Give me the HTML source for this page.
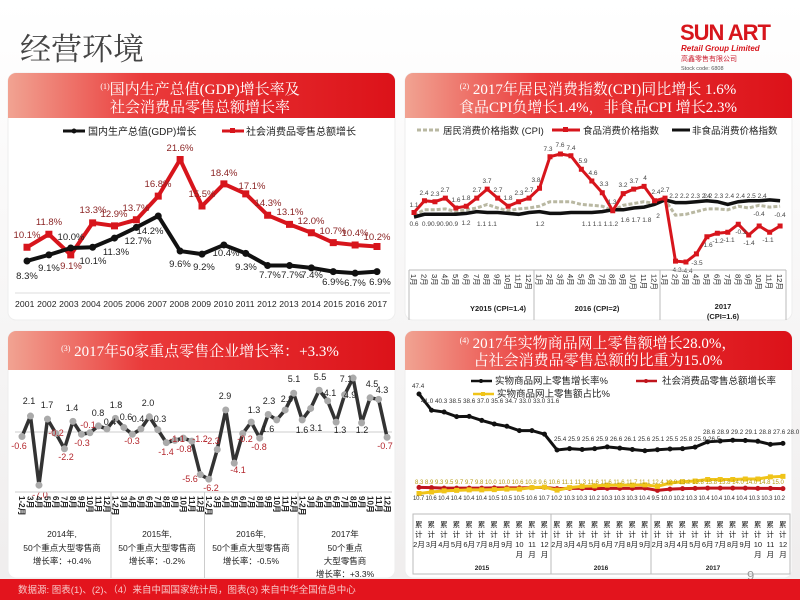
<!DOCTYPE html>
<html><head><meta charset="utf-8"><style>
html,body{margin:0;padding:0;width:800px;height:600px;overflow:hidden;background:#f5f3f3}
svg{display:block}
text{font-family:"Liberation Sans","Noto Sans CJK SC",sans-serif}
text.ser,.ser text{font-family:"Liberation Serif","Noto Serif CJK SC",serif}
</style></head><body>
<svg width="800" height="600" viewBox="0 0 800 600" xmlns="http://www.w3.org/2000/svg">
<defs>
<linearGradient id="hd" x1="0" x2="1" y1="0" y2="0">
<stop offset="0" stop-color="#f1a392"/><stop offset="0.35" stop-color="#ea3a3a"/><stop offset="1" stop-color="#dc1219"/></linearGradient>
<linearGradient id="bg" x1="0" x2="0" y1="0" y2="1"><stop offset="0" stop-color="#ffffff"/><stop offset="1" stop-color="#efeded"/></linearGradient>
</defs>
<rect width="800" height="600" fill="url(#bg)"/>
<text x="20" y="60" class="ser" font-size="31" fill="#444">经营环境</text>
<text x="680" y="40" font-size="22" font-weight="bold" fill="#d7151c" letter-spacing="-1">SUN ART</text>
<text x="681" y="51" font-size="8" font-weight="bold" font-style="italic" fill="#d7151c">Retail Group Limited</text>
<text x="681" y="61" font-size="7" fill="#c23">高鑫零售有限公司</text>
<text x="681" y="70" font-size="5.5" fill="#555">Stock code: 6808</text>

<!-- panels -->
<rect x="8" y="73" width="387" height="247" rx="8" fill="#fff" stroke="#eee"/>
<path d="M8 118V81a8 8 0 0 1 8-8h371a8 8 0 0 1 8 8v37z" fill="url(#hd)"/>
<rect x="405" y="73" width="387" height="247" rx="8" fill="#fff" stroke="#eee"/>
<path d="M405 118V81a8 8 0 0 1 8-8h371a8 8 0 0 1 8 8v37z" fill="url(#hd)"/>
<rect x="8" y="331" width="387" height="247" rx="8" fill="#fff" stroke="#eee"/>
<path d="M8 370V339a8 8 0 0 1 8-8h371a8 8 0 0 1 8 8v31z" fill="url(#hd)"/>
<rect x="405" y="331" width="387" height="247" rx="8" fill="#fff" stroke="#eee"/>
<path d="M405 370V339a8 8 0 0 1 8-8h371a8 8 0 0 1 8 8v31z" fill="url(#hd)"/>

<g class="ser" fill="#fff" text-anchor="middle" font-size="15">
<text x="200" y="94"><tspan font-size="8" dy="-5">(1)</tspan><tspan dy="5">国内生产总值(GDP)增长率及</tspan></text>
<text x="200" y="112">社会消费品零售总额增长率</text>
<text x="598" y="94"><tspan font-size="8" dy="-5">(2)</tspan><tspan dy="5"> 2017年居民消费指数(CPI)同比增长 1.6%</tspan></text>
<text x="598" y="112">食品CPI负增长1.4%，非食品CPI 增长2.3%</text>
<text x="200" y="356"><tspan font-size="8" dy="-5">(3)</tspan><tspan dy="5"> 2017年50家重点零售企业增长率：+3.3%</tspan></text>
<text x="598" y="348"><tspan font-size="8" dy="-5">(4)</tspan><tspan dy="5"> 2017年实物商品网上零售额增长28.0%，</tspan></text>
<text x="598" y="365">占社会消费品零售总额的比重为15.0%</text>
</g>

<!-- Chart 1 -->
<g font-size="10" fill="#222">
<line x1="63" y1="131" x2="85" y2="131" stroke="#111" stroke-width="3"/><circle cx="74" cy="131" r="2.5" fill="#111"/>
<text x="88" y="135">国内生产总值(GDP)增长</text>
<line x1="222" y1="131" x2="244" y2="131" stroke="#d7151c" stroke-width="3"/><rect x="230" y="128" width="5" height="5" fill="#d7151c"/>
<text x="246" y="135">社会消费品零售总额增长</text>
</g>
<line x1="15" y1="293" x2="390" y2="293" stroke="#ddd"/>
<text x="201" y="307" font-size="8.6" fill="#222" text-anchor="middle" textLength="372" lengthAdjust="spacing">2001 2002 2003 2004 2005 2006 2007 2008 2009 2010 2011 2012 2013 2014 2015 2016 2017</text>
<g transform="translate(27,324.3) scale(21.875,-7.63)" fill="none">
<polyline vector-effect="non-scaling-stroke" stroke="#d7151c" stroke-width="4" stroke-linejoin="round" points="0,10.1 1,11.8 2,9.1 3,13.3 4,12.9 5,13.7 6,16.8 7,21.6 8,15.5 9,18.4 10,17.1 11,14.3 12,13.1 13,12 14,10.7 15,10.4 16,10.2"/>
<path vector-effect="non-scaling-stroke" stroke="#d7151c" stroke-width="7" stroke-linecap="square" d="M0 10.1h0M1 11.8h0M2 9.1h0M3 13.3h0M4 12.9h0M5 13.7h0M6 16.8h0M7 21.6h0M8 15.5h0M9 18.4h0M10 17.1h0M11 14.3h0M12 13.1h0M13 12h0M14 10.7h0M15 10.4h0M16 10.2h0"/>
<polyline vector-effect="non-scaling-stroke" stroke="#111" stroke-width="4" stroke-linejoin="round" points="0,8.3 1,9.1 2,10 3,10.1 4,11.3 5,12.7 6,14.2 7,9.6 8,9.2 9,10.4 10,9.3 11,7.7 12,7.7 13,7.4 14,6.9 15,6.7 16,6.9"/>
<path vector-effect="non-scaling-stroke" stroke="#111" stroke-width="7" stroke-linecap="round" d="M0 8.3h0M1 9.1h0M2 10h0M3 10.1h0M4 11.3h0M5 12.7h0M6 14.2h0M7 9.6h0M8 9.2h0M9 10.4h0M10 9.3h0M11 7.7h0M12 7.7h0M13 7.4h0M14 6.9h0M15 6.7h0M16 6.9h0"/>
</g>
<g font-size="9.5" fill="#8b2424" text-anchor="middle">
<text x="27" y="238">10.1%</text><text x="49" y="225">11.8%</text><text x="71" y="269">9.1%</text><text x="93" y="213">13.3%</text><text x="114" y="217">12.9%</text><text x="136" y="211">13.7%</text><text x="158" y="187">16.8%</text><text x="180" y="151">21.6%</text><text x="202" y="197">15.5%</text><text x="224" y="176">18.4%</text><text x="252" y="189">17.1%</text><text x="268" y="206">14.3%</text><text x="290" y="215">13.1%</text><text x="311" y="224">12.0%</text><text x="333" y="234">10.7%</text><text x="355" y="236">10.4%</text><text x="377" y="240">10.2%</text>
</g>
<g font-size="9.5" fill="#222" text-anchor="middle">
<text x="27" y="279">8.3%</text><text x="49" y="271">9.1%</text><text x="71" y="240">10.0%</text><text x="93" y="264">10.1%</text><text x="116" y="255">11.3%</text><text x="138" y="244">12.7%</text><text x="150" y="234">14.2%</text><text x="180" y="267">9.6%</text><text x="204" y="270">9.2%</text><text x="226" y="256">10.4%</text><text x="246" y="270">9.3%</text><text x="270" y="278">7.7%</text><text x="292" y="278">7.7%</text><text x="312" y="278">7.4%</text><text x="333" y="285">6.9%</text><text x="355" y="286">6.7%</text><text x="380" y="285">6.9%</text>
</g>

<!-- Chart 2 -->
<g font-size="9.5" fill="#222">
<line x1="417" y1="130" x2="440" y2="130" stroke="#b9b8a2" stroke-width="3" stroke-dasharray="4 2"/>
<text x="443" y="134">居民消费价格指数 (CPI)</text>
<line x1="552" y1="130" x2="580" y2="130" stroke="#d7151c" stroke-width="3"/><rect x="563" y="127" width="5" height="5" fill="#d7151c"/>
<text x="583" y="134">食品消费价格指数</text>
<line x1="672" y1="130" x2="690" y2="130" stroke="#111" stroke-width="3"/>
<text x="692" y="134">非食品消费价格指数</text>
</g>
<g transform="translate(414,222.4) scale(10.46,-9)" fill="none">
<polyline vector-effect="non-scaling-stroke" stroke="#b9b8a2" stroke-width="3" stroke-dasharray="4 2" points="0,0.8 1,1.4 2,1.4 3,1.5 4,1.2 5,1.4 6,1.6 7,2 8,1.6 9,1.3 10,1.5 11,1.6 12,1.8 13,2.3 14,2.3 15,2.3 16,2 17,1.9 18,1.8 19,1.3 20,1.9 21,2.1 22,2.3 23,2.1 24,2.5 25,0.8 26,0.9 27,1.2 28,1.5 29,1.5 30,1.4 31,1.8 32,1.6 33,1.9 34,1.7 35,1.8"/>
<polyline vector-effect="non-scaling-stroke" stroke="#111" stroke-width="3.5" points="0,0.6 1,0.9 2,0.9 3,0.9 4,0.9 5,1 6,1.2 7,1.1 8,1.1 9,1 10,0.9 11,1.1 12,1.2 13,1 14,1 15,1.1 16,1.1 17,1.1 18,1.2 19,1.4 20,1.4 21,1.6 22,1.7 23,2 24,2.5 25,2.2 26,2.2 27,2.3 28,2.4 29,2.3 30,2 31,2.3 32,2.4 33,2.4 34,2.5 35,2.4"/>
<polyline vector-effect="non-scaling-stroke" stroke="#d7151c" stroke-width="3" stroke-linejoin="round" points="0,1.1 1,2.4 2,2.3 3,2.7 4,1.6 5,1.8 6,2.7 7,3.7 8,2.7 9,1.8 10,2.3 11,2.7 12,3.8 13,7.3 14,7.6 15,7.4 16,5.9 17,4.6 18,3.3 19,1.3 20,3.2 21,3.7 22,4 23,2.4 24,2.7 25,-4.3 26,-4.4 27,-3.5 28,-1.6 29,-1.2 30,-1.1 31,-0.2 32,-1.4 33,-0.4 34,-1.1 35,-0.4"/>
<path vector-effect="non-scaling-stroke" stroke="#d7151c" stroke-width="5" stroke-linecap="square" d="M0 1.1h0M1 2.4h0M2 2.3h0M3 2.7h0M4 1.6h0M5 1.8h0M6 2.7h0M7 3.7h0M8 2.7h0M9 1.8h0M10 2.3h0M11 2.7h0M12 3.8h0M13 7.3h0M14 7.6h0M15 7.4h0M16 5.9h0M17 4.6h0M18 3.3h0M19 1.3h0M20 3.2h0M21 3.7h0M22 4h0M23 2.4h0M24 2.7h0M25 -4.3h0M26 -4.4h0M27 -3.5h0M28 -1.6h0M29 -1.2h0M30 -1.1h0M31 -0.2h0M32 -1.4h0M33 -0.4h0M34 -1.1h0M35 -0.4h0"/>
</g>
<g font-size="6.5" fill="#444" text-anchor="middle">
<text x="414" y="207">1.1</text><text x="424" y="195">2.4</text><text x="435" y="196">2.3</text><text x="445" y="192">2.7</text><text x="456" y="202">1.6</text><text x="466" y="200">1.8</text><text x="477" y="192">2.7</text><text x="487" y="183">3.7</text><text x="498" y="192">2.7</text><text x="508" y="200">1.8</text><text x="519" y="195">2.3</text><text x="529" y="192">2.7</text><text x="536" y="182">3.8</text><text x="548" y="151">7.3</text><text x="560" y="147">7.6</text><text x="571" y="150">7.4</text><text x="583" y="163">5.9</text><text x="593" y="175">4.6</text><text x="604" y="186">3.3</text><text x="612" y="204">1.3</text><text x="623" y="187">3.2</text><text x="634" y="183">3.7</text><text x="645" y="180">4</text><text x="656" y="194">2.4</text><text x="665" y="192">2.7</text>
<text x="676" y="272">-4.3</text><text x="687" y="273">-4.4</text><text x="697" y="265">-3.5</text><text x="707" y="247">-1.6</text><text x="718" y="243">-1.2</text><text x="729" y="242">-1.1</text><text x="741" y="234">-0.2</text><text x="749" y="245">-1.4</text><text x="759" y="216">-0.4</text><text x="768" y="242">-1.1</text><text x="780" y="217">-0.4</text>
<text x="414" y="226">0.6</text><text x="440" y="226">0.90.90.90.9</text><text x="466" y="225">1.2</text><text x="487" y="226">1.1 1.1</text><text x="540" y="226">1.2</text><text x="600" y="226">1.1 1.1 1.1.2</text><text x="636" y="222">1.6 1.7 1.8</text><text x="658" y="218">2</text>
<text x="690" y="198">2.2 2.2 2.3 2.4</text><text x="735" y="198">2.2 2.3 2.4 2.4 2.5 2.4</text>
</g>
<line x1="409" y1="270" x2="786" y2="270" stroke="#bbb"/>
<g stroke="#bbb"><line x1="409" y1="270" x2="409" y2="320"/><line x1="534" y1="270" x2="534" y2="320"/><line x1="660" y1="270" x2="660" y2="320"/><line x1="786" y1="270" x2="786" y2="320"/></g>
<g font-size="7.5" fill="#222">
<text transform="translate(411,274) rotate(90)">1月</text><text transform="translate(421.5,274) rotate(90)">2月</text><text transform="translate(432,274) rotate(90)">3月</text><text transform="translate(442.4,274) rotate(90)">4月</text><text transform="translate(452.8,274) rotate(90)">5月</text><text transform="translate(463.3,274) rotate(90)">6月</text><text transform="translate(473.8,274) rotate(90)">7月</text><text transform="translate(484.2,274) rotate(90)">8月</text><text transform="translate(494.7,274) rotate(90)">9月</text><text transform="translate(505.1,274) rotate(90)">10月</text><text transform="translate(515.6,274) rotate(90)">11月</text><text transform="translate(526.1,274) rotate(90)">12月</text>
<text transform="translate(536.5,274) rotate(90)">1月</text><text transform="translate(547,274) rotate(90)">2月</text><text transform="translate(557.4,274) rotate(90)">3月</text><text transform="translate(567.9,274) rotate(90)">4月</text><text transform="translate(578.4,274) rotate(90)">5月</text><text transform="translate(588.8,274) rotate(90)">6月</text><text transform="translate(599.3,274) rotate(90)">7月</text><text transform="translate(609.7,274) rotate(90)">8月</text><text transform="translate(620.2,274) rotate(90)">9月</text><text transform="translate(630.7,274) rotate(90)">10月</text><text transform="translate(641.1,274) rotate(90)">11月</text><text transform="translate(651.6,274) rotate(90)">12月</text>
<text transform="translate(662,274) rotate(90)">1月</text><text transform="translate(672.5,274) rotate(90)">2月</text><text transform="translate(683,274) rotate(90)">3月</text><text transform="translate(693.4,274) rotate(90)">4月</text><text transform="translate(703.9,274) rotate(90)">5月</text><text transform="translate(714.3,274) rotate(90)">6月</text><text transform="translate(724.8,274) rotate(90)">7月</text><text transform="translate(735.3,274) rotate(90)">8月</text><text transform="translate(745.7,274) rotate(90)">9月</text><text transform="translate(756.2,274) rotate(90)">10月</text><text transform="translate(766.6,274) rotate(90)">11月</text><text transform="translate(777.1,274) rotate(90)">12月</text>
</g>
<g font-size="7.5" font-weight="bold" fill="#222" text-anchor="middle">
<text x="498" y="311">Y2015 (CPI=1.4)</text><text x="597" y="311">2016 (CPI=2)</text><text x="723" y="309">2017</text><text x="723" y="319">(CPI=1.6)</text>
</g>

<!-- Chart 3 -->
<line x1="15" y1="432" x2="392" y2="432" stroke="#ccc"/>
<g transform="translate(22,432) scale(8.49,-7.6)" fill="none">
<polyline vector-effect="non-scaling-stroke" stroke="#333" stroke-width="3.5" stroke-linejoin="round" points="0,-0.6 1,2.1 2,-7 3,1.7 4,-0.2 5,-2.2 6,1.4 7,-0.3 8,-0.1 9,0.8 10,0.4 11,1.8 12,0.6 13,-0.3 14,0.4 15,2 16,0.3 17,-1.4 18,-1.1 19,-0.8 20,-1.2 21,-5.6 22,-6.2 23,-2.3 24,2.9 25,-4.1 26,-0.2 27,1.3 28,-0.8 29,2.3 30,1.6 31,2.9 32,5.1 33,1.6 34,3.1 35,5.5 36,4.1 37,1.3 38,4.9 39,7.1 40,1.2 41,4.5 42,4.3 43,-0.7"/>
<path vector-effect="non-scaling-stroke" stroke="#aaa" stroke-width="7" stroke-linecap="round" d="M0 -0.6h0M1 2.1h0M2 -7h0M3 1.7h0M4 -0.2h0M5 -2.2h0M6 1.4h0M7 -0.3h0M8 -0.1h0M9 0.8h0M10 0.4h0M11 1.8h0M12 0.6h0M13 -0.3h0M14 0.4h0M15 2h0M16 0.3h0M17 -1.4h0M18 -1.1h0M19 -0.8h0M20 -1.2h0M21 -5.6h0M22 -6.2h0M23 -2.3h0M24 2.9h0M25 -4.1h0M26 -0.2h0M27 1.3h0M28 -0.8h0M29 2.3h0M30 1.6h0M31 2.9h0M32 5.1h0M33 1.6h0M34 3.1h0M35 5.5h0M36 4.1h0M37 1.3h0M38 4.9h0M39 7.1h0M40 1.2h0M41 4.5h0M42 4.3h0M43 -0.7h0"/>
</g>
<g font-size="9" fill="#222" text-anchor="middle">
<text x="29" y="404">2.1</text><text x="47" y="408">1.7</text><text x="72" y="411">1.4</text><text x="98" y="416">0.8</text><text x="110" y="425">0.4</text><text x="116" y="408">1.8</text><text x="126" y="420">0.6</text><text x="138" y="422">0.4</text><text x="148" y="406">2.0</text><text x="160" y="422">0.3</text><text x="225" y="399">2.9</text><text x="254" y="413">1.3</text><text x="269" y="404">2.3</text><text x="287" y="402">2.9</text><text x="268" y="432">1.6</text><text x="294" y="382">5.1</text><text x="302" y="433">1.6</text><text x="316" y="431">3.1</text><text x="320" y="380">5.5</text><text x="330" y="396">4.1</text><text x="340" y="433">1.3</text><text x="350" y="398">4.9</text><text x="346" y="382">7.1</text><text x="362" y="433">1.2</text><text x="372" y="387">4.5</text><text x="382" y="393">4.3</text>
</g>
<g font-size="9" fill="#b3262c" text-anchor="middle">
<text x="19" y="449">-0.6</text><text x="40" y="498">-7.0</text><text x="56" y="436">-0.2</text><text x="66" y="460">-2.2</text><text x="82" y="446">-0.3</text><text x="88" y="428">-0.1</text><text x="132" y="444">-0.3</text><text x="166" y="455">-1.4</text><text x="177" y="442">-1.1</text><text x="184" y="452">-0.8</text><text x="200" y="442">-1.2</text><text x="190" y="482">-5.6</text><text x="211" y="491">-6.2</text><text x="212" y="444">-2.3</text><text x="238" y="473">-4.1</text><text x="245" y="442">-0.2</text><text x="259" y="450">-0.8</text><text x="385" y="449">-0.7</text>
</g>
<line x1="15" y1="492" x2="392" y2="492" stroke="#ccc"/>
<g stroke="#ccc"><line x1="111" y1="492" x2="111" y2="578"/><line x1="204.5" y1="492" x2="204.5" y2="578"/><line x1="298" y1="492" x2="298" y2="578"/></g>
<g font-size="8" font-weight="bold" fill="#222">
<text transform="translate(19,496) rotate(90)">1-2月</text><text transform="translate(27.5,496) rotate(90)">3月</text><text transform="translate(36,496) rotate(90)">4月</text><text transform="translate(44.5,496) rotate(90)">5月</text><text transform="translate(53,496) rotate(90)">6月</text><text transform="translate(61.5,496) rotate(90)">7月</text><text transform="translate(70,496) rotate(90)">8月</text><text transform="translate(78.5,496) rotate(90)">9月</text><text transform="translate(87,496) rotate(90)">10月</text><text transform="translate(95.5,496) rotate(90)">11月</text><text transform="translate(104,496) rotate(90)">12月</text>
<text transform="translate(112.5,496) rotate(90)">1-2月</text><text transform="translate(121,496) rotate(90)">3月</text><text transform="translate(129.5,496) rotate(90)">4月</text><text transform="translate(138,496) rotate(90)">5月</text><text transform="translate(146.5,496) rotate(90)">6月</text><text transform="translate(155,496) rotate(90)">7月</text><text transform="translate(163.5,496) rotate(90)">8月</text><text transform="translate(172,496) rotate(90)">9月</text><text transform="translate(180.5,496) rotate(90)">10月</text><text transform="translate(189,496) rotate(90)">11月</text><text transform="translate(197.5,496) rotate(90)">12月</text>
<text transform="translate(206,496) rotate(90)">1-2月</text><text transform="translate(214.5,496) rotate(90)">3月</text><text transform="translate(223,496) rotate(90)">4月</text><text transform="translate(231.5,496) rotate(90)">5月</text><text transform="translate(240,496) rotate(90)">6月</text><text transform="translate(248.5,496) rotate(90)">7月</text><text transform="translate(257,496) rotate(90)">8月</text><text transform="translate(265.5,496) rotate(90)">9月</text><text transform="translate(274,496) rotate(90)">10月</text><text transform="translate(282.5,496) rotate(90)">11月</text><text transform="translate(291,496) rotate(90)">12月</text>
<text transform="translate(299.5,496) rotate(90)">1-2月</text><text transform="translate(308,496) rotate(90)">3月</text><text transform="translate(316.5,496) rotate(90)">4月</text><text transform="translate(325,496) rotate(90)">5月</text><text transform="translate(333.5,496) rotate(90)">6月</text><text transform="translate(342,496) rotate(90)">7月</text><text transform="translate(350.5,496) rotate(90)">8月</text><text transform="translate(359,496) rotate(90)">9月</text><text transform="translate(367.5,496) rotate(90)">10月</text><text transform="translate(376,496) rotate(90)">11月</text><text transform="translate(384.5,496) rotate(90)">12月</text>
</g>
<g font-size="8.5" fill="#222" text-anchor="middle">
<text x="62" y="537">2014年,</text><text x="62" y="551">50个重点大型零售商</text><text x="62" y="564">增长率：+0.4%</text>
<text x="157" y="537">2015年,</text><text x="157" y="551">50个重点大型零售商</text><text x="157" y="564">增长率：-0.2%</text>
<text x="251" y="537">2016年,</text><text x="251" y="551">50个重点大型零售商</text><text x="251" y="564">增长率：-0.5%</text>
<text x="345" y="537">2017年</text><text x="345" y="551">50个重点</text><text x="345" y="564">大型零售商</text><text x="345" y="577">增长率：+3.3%</text>
</g>

<!-- Chart 4 -->
<g font-size="9.5" fill="#222">
<line x1="471" y1="381" x2="492" y2="381" stroke="#111" stroke-width="2.5"/><circle cx="481" cy="381" r="2" fill="#111"/>
<text x="495" y="384">实物商品网上零售增长率%</text>
<line x1="636" y1="381" x2="657" y2="381" stroke="#c0141c" stroke-width="2.5"/><circle cx="646" cy="381" r="2" fill="#c0141c"/>
<text x="662" y="384">社会消费品零售总额增长率</text>
<line x1="473" y1="394" x2="494" y2="394" stroke="#f0c419" stroke-width="2.5"/><rect x="481" y="392" width="4" height="4" fill="#f0c419"/>
<text x="497" y="397">实物商品网上零售额占比%</text>
</g>
<g transform="translate(419,514.6) scale(12.55,-2.545)" fill="none">
<polyline vector-effect="non-scaling-stroke" stroke="#c0141c" stroke-width="3" points="0,10.7 1,10.6 2,10.4 3,10.4 4,10.4 5,10.4 6,10.5 7,10.5 8,10.5 9,10.6 10,10.7 11,10.2 12,10.3 13,10.3 14,10.2 15,10.3 16,10.3 17,10.3 18,10.4 19,9.5 20,10 21,10.2 22,10.3 23,10.4 24,10.4 25,10.4 26,10.4 27,10.3 28,10.3 29,10.2"/>
<path vector-effect="non-scaling-stroke" stroke="#c0141c" stroke-width="5" stroke-linecap="round" d="M0 10.7h0M1 10.6h0M2 10.4h0M3 10.4h0M4 10.4h0M5 10.4h0M6 10.5h0M7 10.5h0M8 10.5h0M9 10.6h0M10 10.7h0M11 10.2h0M12 10.3h0M13 10.3h0M14 10.2h0M15 10.3h0M16 10.3h0M17 10.3h0M18 10.4h0M19 9.5h0M20 10h0M21 10.2h0M22 10.3h0M23 10.4h0M24 10.4h0M25 10.4h0M26 10.4h0M27 10.3h0M28 10.3h0M29 10.2h0"/>
<polyline vector-effect="non-scaling-stroke" stroke="#f0c419" stroke-width="3" points="0,8.3 1,8.9 2,9.3 3,9.5 4,9.7 5,9.7 6,9.8 7,10 8,10 9,10.6 10,10.8 11,9.6 12,10.6 13,11.1 14,11.3 15,11.6 16,11.6 17,11.6 18,11.7 19,11.1 20,12.4 21,12.9 22,13.2 23,13.8 24,13.8 25,13.8 26,14 27,14 28,14.8 29,15"/>
<path vector-effect="non-scaling-stroke" stroke="#f0c419" stroke-width="5" stroke-linecap="square" d="M0 8.3h0M1 8.9h0M2 9.3h0M3 9.5h0M4 9.7h0M5 9.7h0M6 9.8h0M7 10h0M8 10h0M9 10.6h0M10 10.8h0M11 9.6h0M12 10.6h0M13 11.1h0M14 11.3h0M15 11.6h0M16 11.6h0M17 11.6h0M18 11.7h0M19 11.1h0M20 12.4h0M21 12.9h0M22 13.2h0M23 13.8h0M24 13.8h0M25 13.8h0M26 14h0M27 14h0M28 14.8h0M29 15h0"/>
<polyline vector-effect="non-scaling-stroke" stroke="#111" stroke-width="3" points="0,47.4 1,41 2,40.3 3,38.5 4,38.6 5,37 6,35.6 7,34.7 8,33 9,33 10,31.6 11,25.4 12,25.9 13,25.6 14,25.9 15,26.6 16,26.1 17,25.6 18,25.1 19,25.5 20,25.8 21,25.9 22,26.5 23,28.6 24,28.9 25,29.2 26,29.1 27,28.8 28,27.6 29,28"/>
<path vector-effect="non-scaling-stroke" stroke="#111" stroke-width="5" stroke-linecap="round" d="M0 47.4h0M1 41h0M2 40.3h0M3 38.5h0M4 38.6h0M5 37h0M6 35.6h0M7 34.7h0M8 33h0M9 33h0M10 31.6h0M11 25.4h0M12 25.9h0M13 25.6h0M14 25.9h0M15 26.6h0M16 26.1h0M17 25.6h0M18 25.1h0M19 25.5h0M20 25.8h0M21 25.9h0M22 26.5h0M23 28.6h0M24 28.9h0M25 29.2h0M26 29.1h0M27 28.8h0M28 27.6h0M29 28h0"/>
</g>
<g font-size="6.3" fill="#333">
<text x="412" y="388">47.4</text><text x="421" y="403">41.0 40.3 38.5 38.6 37.0 35.6 34.7 33.0 33.0 31.6</text>
<text x="554" y="441">25.4 25.9 25.6 25.9 26.6 26.1 25.6 25.1 25.5 25.8 25.9 26.5</text>
<text x="703" y="434">28.6 28.9 29.2 29.1 28.8 27.6 28.0</text>
</g>
<g font-size="6" fill="#b59a10"><text x="415" y="484">8.3  8.9  9.3  9.5  9.7  9.7  9.8 10.0 10.0 10.6 10.8  9.6 10.6 11.1 11.3 11.6 11.6 11.6 11.7 11.1 12.4 12.9 13.2 13.8 13.8 13.8 14.0 14.0 14.8 15.0</text></g>
<g font-size="6" fill="#333"><text x="413" y="500" textLength="372">10.7 10.6 10.4 10.4 10.4 10.4 10.5 10.5 10.5 10.6 10.7 10.2 10.3 10.3 10.2 10.3 10.3 10.3 10.4 9.5 10.0 10.2 10.3 10.4 10.4 10.4 10.4 10.3 10.3 10.2</text></g>
<rect x="413" y="514" width="377" height="60" fill="none" stroke="#bbb"/>
<line x1="551" y1="514" x2="551" y2="574" stroke="#bbb"/><line x1="651" y1="514" x2="651" y2="574" stroke="#bbb"/>
<g font-size="7.5" fill="#222">
<text x="415" y="527" letter-spacing="5.05">累累累累累累累累累累累累累累累累累累累累累累累累累累累累累累</text>
<text x="415" y="537" letter-spacing="5.05">计计计计计计计计计计计计计计计计计计计计计计计计计计计计计计</text>
</g>
<g font-size="7.5" fill="#222" text-anchor="middle">
<text x="419" y="547">2月</text><text x="431.6" y="547">3月</text><text x="444.1" y="547">4月</text><text x="456.7" y="547">5月</text><text x="469.2" y="547">6月</text><text x="481.8" y="547">7月</text><text x="494.3" y="547">8月</text><text x="506.9" y="547">9月</text><text x="519.4" y="547">10</text><text x="532" y="547">11</text><text x="544.5" y="547">12</text>
<text x="519.4" y="557">月</text><text x="532" y="557">月</text><text x="544.5" y="557">月</text>
<text x="557" y="547">2月</text><text x="569.6" y="547">3月</text><text x="582.1" y="547">4月</text><text x="594.7" y="547">5月</text><text x="607.2" y="547">6月</text><text x="619.8" y="547">7月</text><text x="632.3" y="547">8月</text><text x="644.9" y="547">9月</text>
<text x="657.5" y="547">2月</text><text x="670" y="547">3月</text><text x="682.6" y="547">4月</text><text x="695.1" y="547">5月</text><text x="707.7" y="547">6月</text><text x="720.2" y="547">7月</text><text x="732.8" y="547">8月</text><text x="745.3" y="547">9月</text><text x="757.9" y="547">10</text><text x="770.4" y="547">11</text><text x="783" y="547">12</text>
<text x="757.9" y="557">月</text><text x="770.4" y="557">月</text><text x="783" y="557">月</text>
<text x="482" y="570" font-size="6.5" font-weight="bold">2015</text><text x="601" y="570" font-size="6.5" font-weight="bold">2016</text><text x="713" y="570" font-size="6.5" font-weight="bold">2017</text>
</g>
<text x="747" y="580" font-size="13" fill="#999">9</text>

<!-- footer -->
<rect x="0" y="579" width="800" height="21" fill="#e3141d"/>
<text x="18" y="593" font-size="9.5" fill="#f7c8c8">数据源: 图表(1)、(2)、（4）来自中国国家统计局，图表(3) 来自中华全国信息中心</text>
</svg>
</body></html>
